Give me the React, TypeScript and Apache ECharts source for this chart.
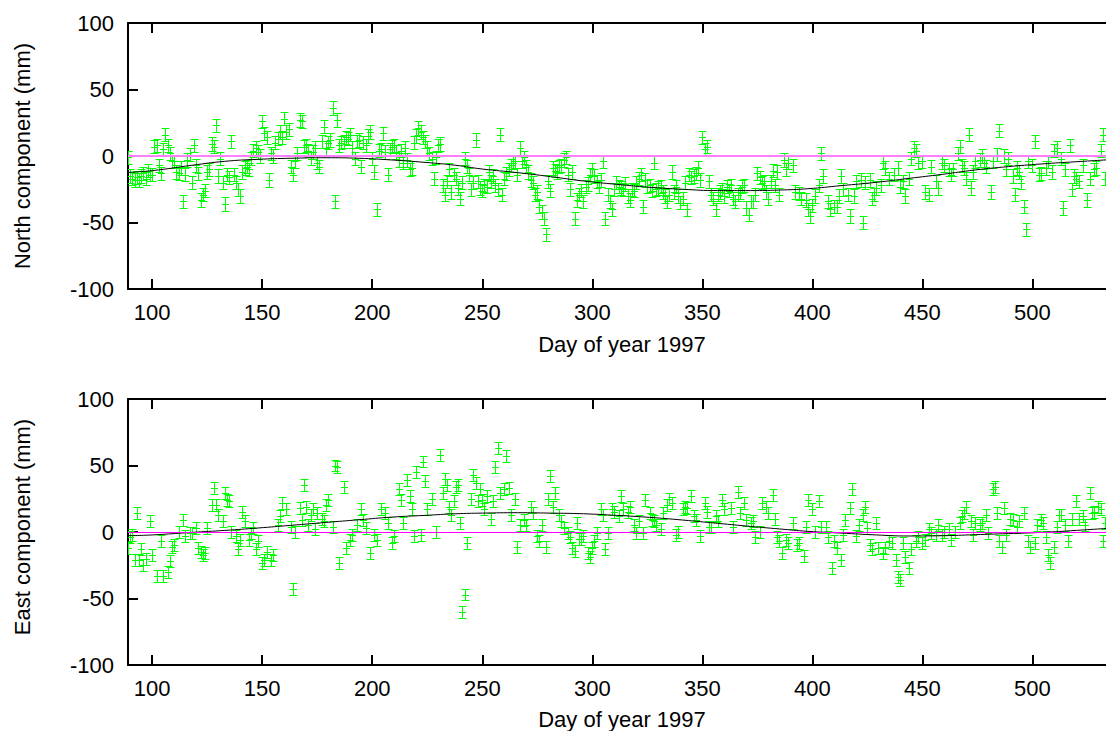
import React, { useEffect, useRef } from "react";
import * as echarts from "echarts";

// ---------- data ----------
const X_TICKS = [100, 150, 200, 250, 300, 350, 400, 450, 500];
const X_MIN = 89;
const X_MAX = 538;
const NORTH_ERR = 5;
const EAST_ERR = 4.5;

// North component observations [day, mm]
const northObs: number[][] = [
  [89,-1],[90,-15],[91,-17],[92,-18],[93,-16],[94,-18],[95,-15],[96,-13],[97,-17],[98,-11],[99,-14],
  [100,-14],[101,7],[102,8],[103,-7],[104,-13],[105,5],[106,16],[107,8],[108,2],[109,-4],
  [110,-4],[111,-12],[112,-13],[113,-9],[114,-34],[115,-14],[116,-3],[117,1],[118,-20],[119,8],
  [120,-7],[121,-13],[122,-33],[123,-29],[124,-26],[125,-12],[126,-10],[127,9],[128,7],[129,23],
  [130,-15],[131,-2],[132,-20],[133,-36],[134,-14],[135,-16],[136,11],[137,-14],[138,-20],[139,-25],
  [140,-30],[141,-12],[142,-9],[143,-8],[144,-10],[145,-2],[146,4],[147,6],[148,3],[149,0],
  [150,26],[151,17],[152,14],[153,-18],[154,2],[155,0],[156,10],[157,13],[158,18],[159,14],
  [160,28],[161,18],[162,20],[163,-8],[164,-14],[165,-4],[166,2],[167,27],[168,26],[169,7],
  [170,8],[171,4],[172,-2],[173,3],[174,6],[175,-5],[176,-8],[177,11],[178,22],[179,6],
  [180,10],[181,12],[182,36],[183,-34],[184,27],[185,8],[186,10],[187,11],[188,14],[189,13],
  [190,16],[191,6],[192,-2],[193,11],[194,12],[195,-8],[196,10],[197,8],[198,15],[199,18],
  [200,-2],[201,-12],[202,-40],[203,4],[204,5],[205,17],[206,3],[207,-14],[208,5],[209,7],
  [210,8],[211,3],[212,-3],[213,4],[214,-5],[215,6],[216,-3],[217,-10],[218,-9],[219,10],
  [220,15],[221,21],[222,18],[223,14],[224,11],[225,6],[226,2],[227,-2],[228,-17],[229,-1],
  [230,8],[231,9],[232,-22],[233,-29],[234,-19],[235,-10],[236,-27],[237,-14],[238,-17],[239,-24],
  [240,-32],[241,-20],[242,-2],[243,-8],[244,-14],[245,-25],[246,-20],[247,12],[248,-19],[249,-24],
  [250,-26],[251,-22],[252,-23],[253,-12],[254,-19],[255,-15],[256,-22],[257,-25],[258,16],[259,-29],
  [260,-17],[261,-13],[262,-10],[263,-7],[264,-5],[265,-4],[266,-14],[267,6],[268,-4],[269,-1],
  [270,-8],[271,-12],[272,-18],[273,-20],[274,-29],[275,-27],[276,-38],[277,-42],[278,-47],[279,-59],
  [280,-19],[281,-26],[282,-9],[283,-11],[284,-12],[285,-8],[286,-7],[287,-3],[288,-1],[289,-14],
  [290,-25],[291,-12],[292,-47],[293,-33],[294,-29],[295,-26],[296,-34],[297,-23],[298,-21],[299,-14],
  [300,-10],[301,-15],[302,-19],[303,-23],[304,-18],[305,-4],[306,-47],[307,-29],[308,-34],[309,-40],
  [310,-25],[311,-20],[312,-23],[313,-24],[314,-25],[315,-21],[316,-30],[317,-33],[318,-25],[319,-26],
  [320,-20],[321,-17],[322,-14],[323,-38],[324,-18],[325,-23],[326,-22],[327,-26],[328,-5],[329,-25],
  [330,-24],[331,-23],[332,-27],[333,-30],[334,-34],[335,-29],[336,-12],[337,-27],[338,-23],[339,-30],
  [340,-35],[341,-32],[342,-20],[343,-40],[344,-14],[345,-16],[346,-15],[347,-13],[348,-9],[349,-18],
  [350,14],[351,5],[352,7],[353,-19],[354,-29],[355,-32],[356,-40],[357,-29],[358,-27],[359,-25],
  [360,-30],[361,-23],[362,-26],[363,-22],[364,-32],[365,-34],[366,-29],[367,-27],[368,-23],[369,-22],
  [370,-39],[371,-44],[372,-34],[373,-34],[374,-29],[375,-13],[376,-16],[377,-20],[378,-19],[379,-27],
  [380,-32],[381,-19],[382,-11],[383,-22],[384,-12],[385,-29],[387,-3],[388,-10],[389,-5],
  [391,-7],[392,-27],[394,-28],[395,-32],[397,-33],[398,-40],[399,-45],[400,-37],[401,-30],
  [403,-22],[404,2],[405,-15],[407,-34],[408,-40],[410,-38],[411,-38],[412,-30],[413,-15],[414,-25],
  [416,-29],[417,-45],[419,-30],[420,-19],[422,-18],[423,-50],[424,-20],[426,-18],[427,-32],[428,-29],
  [429,-24],[431,-22],[432,-5],[433,-9],[435,-17],[437,-14],[439,-9],[440,-23],[441,-19],[442,-30],
  [444,-17],[445,-2],[446,6],[447,4],[448,-5],[450,-4],[451,-27],[453,-29],[454,-8],[456,-19],
  [457,-24],[459,-5],[460,-7],[462,-10],[463,-14],[464,-10],[466,2],[467,7],[468,-7],[469,-9],
  [470,-17],[471,16],[472,-24],[473,-12],[474,-4],[476,-3],[477,0],[478,-5],[479,-8],[481,-27],
  [482,-4],[484,1],[485,19],[487,0],[488,-10],[489,-2],[491,-15],[492,-29],[493,-9],[494,-12],
  [495,-20],[496,-38],[497,-55],[498,-4],[500,-7],[501,11],[503,-14],[504,-13],[506,-9],[507,-4],
  [509,-12],[510,4],[511,6],[513,-2],[514,-39],[515,-10],[517,8],[518,-25],[519,-15],[520,-17],
  [521,-19],[523,-7],[525,-33],[526,-17],[528,-10],[529,-9],[531,4],[532,16],[533,-17]
];

// East component observations [day, mm]
const eastObs: number[][] = [
  [89,-12],[90,-4],[91,-2],[92,-21],[93,14],[94,-21],[95,-13],[96,-25],[97,-20],[99,8],
  [100,-17],[102,-33],[104,-7],[105,-33],[107,-30],[108,-22],[109,-11],[110,-10],[112,0],[114,9],
  [115,-3],[117,-1],[118,-1],[120,3],[121,-12],[122,-15],[123,-17],[124,-16],[125,3],[127,20],
  [128,33],[129,20],[130,13],[132,8],[133,29],[134,24],[135,23],[136,0],[138,-3],[139,-13],
  [140,-6],[141,15],[142,8],[144,-6],[145,-1],[146,3],[147,-13],[148,-7],[150,-23],[151,-21],
  [152,-15],[154,-21],[155,-17],[157,5],[158,12],[159,22],[161,17],[163,4],[164,-43],[165,0],
  [167,18],[168,9],[169,35],[170,19],[171,5],[172,13],[173,17],[174,2],[175,14],[177,10],
  [178,8],[179,20],[180,24],[182,4],[183,50],[184,49],[185,-23],[187,34],[188,-12],[190,-6],
  [191,-2],[193,5],[195,17],[196,9],[197,3],[199,-16],[201,-2],[202,-6],[204,17],[206,14],
  [207,7],[209,-8],[210,-3],[212,32],[213,24],[214,7],[216,39],[217,27],[218,17],[219,-3],
  [220,45],[222,-2],[223,53],[224,38],[225,17],[227,25],[229,0],[231,58],[232,29],[233,40],
  [234,35],[235,19],[236,13],[237,23],[238,34],[239,35],[240,7],[241,-60],[242,-47],[243,-8],
  [245,25],[246,43],[247,37],[248,23],[249,32],[250,24],[251,17],[252,27],[254,10],[255,23],
  [256,49],[257,63],[258,29],[260,32],[261,57],[262,33],[263,13],[265,25],[266,-11],[267,5],
  [269,9],[270,5],[272,19],[273,14],[275,-3],[276,-7],[277,5],[279,-11],[280,25],[281,42],
  [282,19],[283,29],[285,13],[286,8],[287,3],[289,-1],[290,-4],[291,-12],[292,-14],[293,7],
  [294,-5],[295,-5],[296,-3],[298,-16],[299,-19],[300,-12],[301,-7],[302,-1],[304,17],[305,13],
  [306,-13],[307,-1],[309,17],[310,15],[312,12],[313,27],[314,17],[316,15],[317,19],[319,5],
  [320,-1],[321,8],[323,-1],[324,24],[326,14],[327,9],[328,8],[329,5],[331,2],[332,14],
  [334,20],[335,25],[336,22],[338,-2],[339,0],[341,17],[342,19],[343,18],[345,27],[346,12],
  [347,9],[349,-3],[351,22],[352,15],[353,4],[354,4],[356,12],[357,8],[359,24],[360,17],
  [363,18],[364,4],[366,30],[367,14],[369,22],[370,9],[372,7],[373,8],[374,-4],[376,0],
  [377,22],[379,19],[380,14],[382,28],[383,10],[384,-4],[385,-7],[386,-16],[388,-6],[389,-8],
  [391,7],[393,-10],[394,-8],[396,-18],[397,4],[398,24],[400,17],[401,0],[403,23],[404,4],
  [406,4],[407,-4],[409,-27],[410,-7],[411,-12],[413,-21],[414,-2],[415,9],[417,18],[418,32],
  [420,-3],[421,5],[423,13],[424,19],[425,3],[426,-10],[427,-13],[429,7],[430,-12],[432,-16],
  [433,-12],[435,-7],[436,-8],[438,-21],[439,-34],[440,-36],[441,-8],[442,-19],[444,-27],[445,-13],
  [447,-7],[448,-4],[450,-8],[451,-6],[453,2],[454,-1],[456,-2],[457,5],[459,-2],[460,0],
  [462,2],[463,-6],[465,0],[467,7],[468,12],[469,14],[470,19],[472,8],[473,-2],[474,7],
  [476,5],[477,7],[479,13],[480,-1],[482,32],[483,34],[484,14],[485,-7],[486,-11],[487,18],
  [488,-2],[490,10],[491,9],[493,4],[494,8],[496,14],[498,-7],[499,-11],[501,-8],[502,5],
  [504,9],[505,7],[506,-4],[507,-17],[508,-23],[510,-11],[511,4],[512,13],[513,13],[515,5],
  [516,-7],[518,10],[520,23],[521,10],[523,12],[524,5],[526,29],[527,14],[528,15],[530,19],
  [531,17],[532,-7],[533,7]
];

// Fitted curves
const fitDays = [89,100,118,133,148,163,179,194,209,224,238,250,266,281,296,311,326,341,357,372,385,398,413,429,444,459,474,489,504,520,538];
const northFit = [-12.3,-11,-7,-4,-2.5,-1.7,-1.3,-1.7,-3,-4.8,-7,-9.8,-12.5,-15.5,-18.8,-21.3,-23.5,-25,-26,-26,-25.6,-24.6,-22.3,-19.8,-16.8,-13.8,-10.5,-8,-6,-4.3,-2.5];
const eastFit = [-2.8,-2.2,-0.3,1.2,3,5,7.2,9.2,11.2,12.5,13.7,14.2,14.5,14.2,13.7,12.5,11,9,6.5,4.2,2.3,0.5,-0.8,-2.2,-3,-2.8,-2,-1.2,-0.3,1.2,3.2];

// ---------- styling ----------
const FONT = "'Liberation Sans', Arial, Helvetica, sans-serif";
const GREEN = "#00ff00";
const CAP = 4;
const MID = 3.5;

function errorBarItem(params: any, api: any) {
  const x = api.value(0);
  const y = api.value(1);
  const e = api.value(2);
  const t = api.coord([x, y + e]);
  const b = api.coord([x, y - e]);
  const m = api.coord([x, y]);
  const cx = Math.round(m[0]) + 0.5;
  const ty = Math.round(t[1]) + 0.5;
  const by = Math.round(b[1]) + 0.5;
  const my = Math.round(m[1]) + 0.5;
  const d =
    `M${cx} ${ty}L${cx} ${by}` +
    `M${cx - CAP} ${ty}L${cx + CAP} ${ty}` +
    `M${cx - CAP} ${by}L${cx + CAP} ${by}` +
    `M${cx - MID} ${my}L${cx + MID} ${my}`;
  return {
    type: "path",
    shape: { pathData: d },
    style: { stroke: GREEN, lineWidth: 1, fill: null, opacity: 1 },
    emphasisDisabled: true,
  };
}

function xAxes(gridIndex: number) {
  const base = {
    type: "value",
    gridIndex,
    min: X_MIN,
    max: X_MAX,
    splitLine: { show: false },
    axisLine: { show: true, onZero: false, lineStyle: { color: "#000", width: 2 } },
    axisTick: {
      show: true,
      inside: true,
      length: 10,
      customValues: X_TICKS,
      lineStyle: { color: "#000", width: 2 },
    },
  };
  return [
    {
      ...base,
      position: "bottom",
      axisLabel: {
        show: true,
        customValues: X_TICKS,
        color: "#000",
        fontSize: 22,
        fontFamily: FONT,
        margin: 12,
      },
    },
    {
      ...base,
      position: "top",
      axisLabel: { show: false },
    },
  ];
}

function yAxis(gridIndex: number) {
  return {
    type: "value",
    gridIndex,
    min: -100,
    max: 100,
    interval: 50,
    splitLine: { show: false },
    axisLine: { show: true, onZero: false, lineStyle: { color: "#000", width: 2 } },
    axisTick: { show: true, inside: true, length: 10, lineStyle: { color: "#000", width: 2 } },
    axisLabel: { color: "#000", fontSize: 22, fontFamily: FONT, margin: 14 },
  };
}

function panelSeries(
  obs: number[][],
  err: number,
  fit: number[],
  xIdx: number,
  yIdx: number,
  zeroColor: string,
  zeroWidth: number
) {
  return [
    {
      type: "custom",
      xAxisIndex: xIdx,
      yAxisIndex: yIdx,
      renderItem: errorBarItem,
      data: obs.map((p) => [p[0], p[1], err]),
      encode: { x: 0, y: 1 },
      itemStyle: { color: GREEN },
      emphasis: { disabled: true },
      clip: true,
      z: 2,
      silent: true,
    },
    {
      type: "line",
      xAxisIndex: xIdx,
      yAxisIndex: yIdx,
      data: fitDays.map((d, i) => [d, fit[i]]),
      smooth: true,
      showSymbol: false,
      lineStyle: { color: "#000", width: 1 },
      z: 3,
      silent: true,
      markLine: {
        silent: true,
        symbol: "none",
        label: { show: false },
        lineStyle: { color: zeroColor, width: zeroWidth, type: "solid" },
        data: [{ yAxis: 0 }],
        z: 4,
      },
    },
  ];
}

export default function App() {
  const ref = useRef<HTMLDivElement>(null);

  useEffect(() => {
    if (!ref.current) return;
    const chart = echarts.init(ref.current, null, { renderer: "svg" });
    const nameStyle = { fill: "#000", fontSize: 22, fontFamily: FONT, textAlign: "center", textVerticalAlign: "middle" };
    chart.setOption({
      animation: false,
      backgroundColor: "#fff",
      grid: [
        { left: 128, top: 23, width: 988, height: 266, outerBoundsMode: "none", containLabel: false },
        { left: 128, top: 399, width: 988, height: 266, outerBoundsMode: "none", containLabel: false },
      ],
      xAxis: [...xAxes(0), ...xAxes(1)],
      yAxis: [yAxis(0), yAxis(1)],
      series: [
        ...panelSeries(northObs, NORTH_ERR, northFit, 0, 0, "#ff80ff", 2),
        ...panelSeries(eastObs, EAST_ERR, eastFit, 2, 1, "#ff00ff", 1),
      ],
      graphic: [
        { type: "text", x: 22, y: 156, rotation: Math.PI / 2, style: { ...nameStyle, text: "North component (mm)" } },
        { type: "text", x: 622, y: 344, style: { ...nameStyle, text: "Day of year 1997" } },
        { type: "text", x: 22, y: 527, rotation: Math.PI / 2, style: { ...nameStyle, text: "East component (mm)" } },
        { type: "text", x: 622, y: 719, style: { ...nameStyle, text: "Day of year 1997" } },
      ],
    });
    return () => chart.dispose();
  }, []);

  return (
    <div
      ref={ref}
      style={{ position: "absolute", left: 0, top: 0, width: 1106, height: 731, overflow: "hidden", background: "#fff" }}
    />
  );
}
